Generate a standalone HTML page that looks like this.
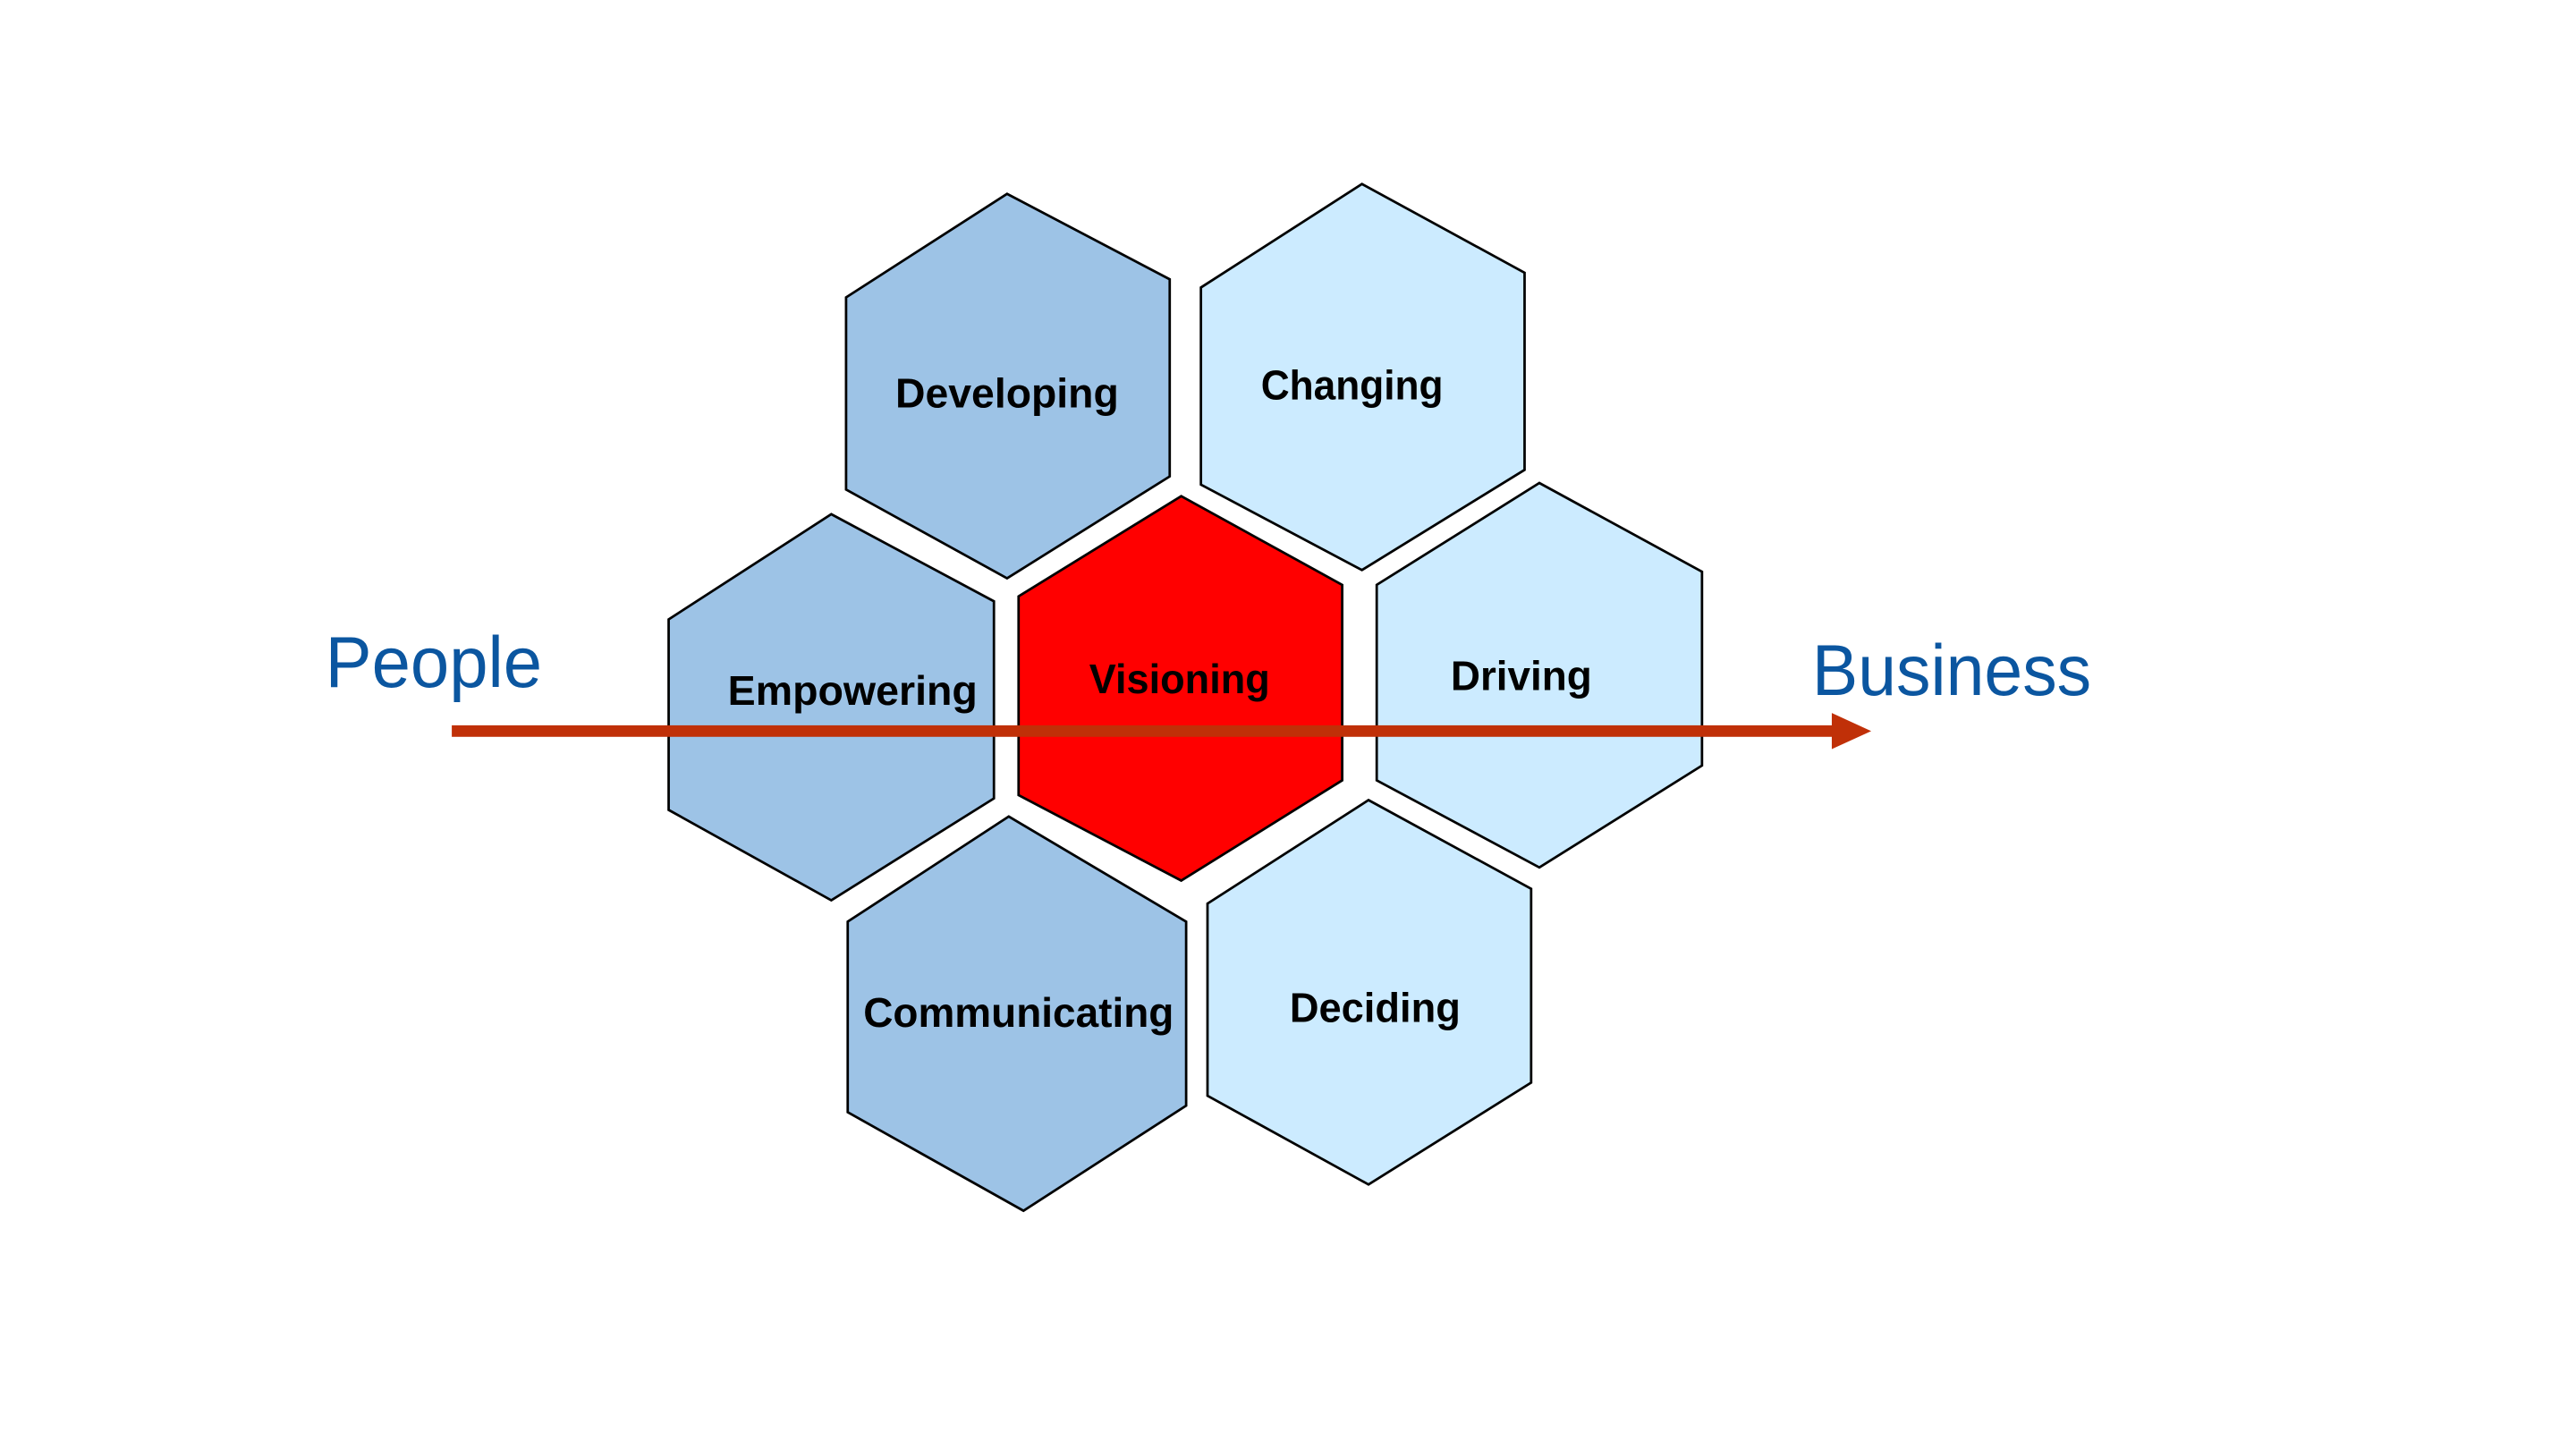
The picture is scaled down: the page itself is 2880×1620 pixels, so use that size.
<!DOCTYPE html>
<html><head><meta charset="utf-8"><style>html,body{margin:0;padding:0;background:#fff}svg{display:block}</style></head>
<body>
<svg width="2880" height="1620" viewBox="0 0 1568 882" xmlns="http://www.w3.org/2000/svg">
<rect width="1568" height="882" fill="#fff"/>
<g stroke="#000" stroke-width="1.5" stroke-linejoin="miter">
<polygon fill="#9DC3E6" points="613,118 712,170 712,290 613,352 515,298 515,181"/>
<polygon fill="#CCEBFF" points="829,112 928,166 928,286 829,347 731,295 731,175"/>
<polygon fill="#9DC3E6" points="506,313 605,366 605,486 506,548 407,493 407,377"/>
<polygon fill="#FF0000" points="719,302 817,356 817,475 719,536 620,484 620,363"/>
<polygon fill="#CCEBFF" points="937,294 1036,348 1036,466 937,528 838,475 838,356"/>
<polygon fill="#9DC3E6" points="614,497 722,561 722,673 623,737 516,677 516,561"/>
<polygon fill="#CCEBFF" points="833,487 932,541 932,659 833,721 735,667 735,550"/>
</g>
<g font-family="Liberation Sans, sans-serif" font-weight="bold" font-size="25" fill="#000" text-anchor="middle">
<text x="613" y="248" textLength="136" lengthAdjust="spacingAndGlyphs">Developing</text>
<text x="823" y="243" textLength="111" lengthAdjust="spacingAndGlyphs">Changing</text>
<text x="519" y="429" textLength="152" lengthAdjust="spacingAndGlyphs">Empowering</text>
<text x="718" y="422" textLength="110" lengthAdjust="spacingAndGlyphs">Visioning</text>
<text x="926" y="420" textLength="86" lengthAdjust="spacingAndGlyphs">Driving</text>
<text x="620" y="625" textLength="189" lengthAdjust="spacingAndGlyphs">Communicating</text>
<text x="837" y="622" textLength="104" lengthAdjust="spacingAndGlyphs">Deciding</text>
</g>
<rect x="275" y="441.5" width="842" height="7" fill="#C03008"/>
<polygon points="1115,434 1139,445 1115,456" fill="#C03008"/>
<g font-family="Liberation Sans, sans-serif" font-size="44" fill="#0B56A0">
<text x="198" y="418" textLength="132" lengthAdjust="spacingAndGlyphs">People</text>
<text x="1103" y="423" textLength="170" lengthAdjust="spacingAndGlyphs">Business</text>
</g>
</svg>
</body></html>
